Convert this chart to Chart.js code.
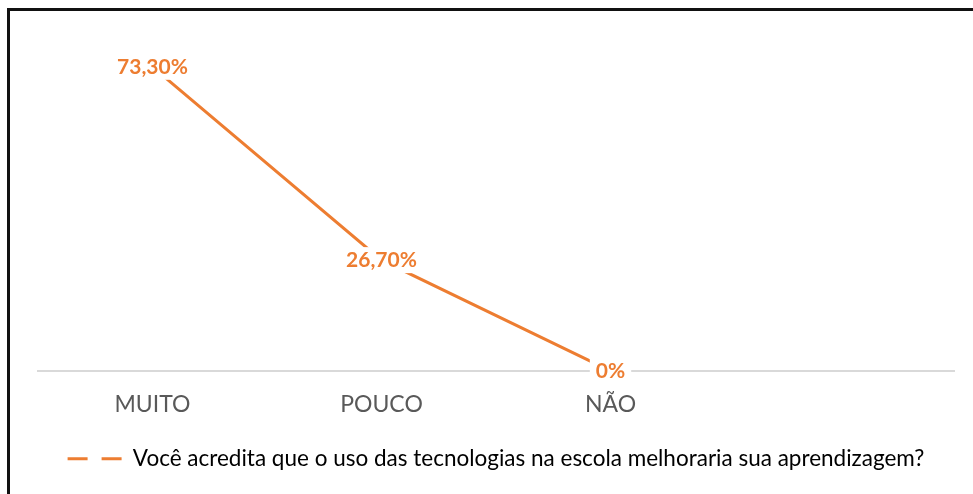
<!DOCTYPE html>
<html>
<head>
<meta charset="utf-8">
<script src="https://cdn.jsdelivr.net/npm/chart.js@4/dist/chart.umd.min.js"></script>
<style>
  html, body { margin: 0; padding: 0; background: #fff; overflow: hidden; }
  #wrap { position: relative; width: 973px; height: 494px; }
  #frame { position: absolute; left: 7px; top: 8px; width: 1000px; height: 600px;
           border-left: 3px solid #111; border-top: 3px solid #111; box-sizing: border-box; pointer-events: none; }
  canvas { position: absolute; left: 0; top: 0; }
</style>
</head>
<body>
<div id="wrap">
  <canvas id="c" width="973" height="494"></canvas>
  <div id="frame"></div>
</div>
<script>
const categories = ["MUITO", "POUCO", "NÃO", ""];
const seriesName = "Você acredita que o uso das tecnologias na escola melhoraria sua aprendizagem?";
const seriesValues = [73.3, 26.7, 0, null];
const valueLabels = ["73,30%", "26,70%", "0%", ""];

const ORANGE = "#ED7D31";

const labelPlugin = {
  id: "valueLabels",
  afterDatasetsDraw(chart) {
    const ctx = chart.ctx;
    const meta = chart.getDatasetMeta(0);
    ctx.save();
    ctx.font = "bold 21px Lato";
    ctx.textAlign = "center";
    ctx.textBaseline = "middle";
    meta.data.forEach((pt, i) => {
      const txt = valueLabels[i];
      if (!txt || seriesValues[i] === null) return;
      const w = ctx.measureText(txt).width;
      ctx.fillStyle = "#fff";
      ctx.fillRect(pt.x - w / 2 - 6, pt.y - 13, w + 12, 26);
      ctx.fillStyle = ORANGE;
      ctx.fillText(txt, pt.x, pt.y);
    });
    ctx.restore();
  }
};

new Chart(document.getElementById("c"), {
  type: "line",
  data: {
    labels: categories,
    datasets: [{
      label: seriesName,
      data: seriesValues,
      borderColor: ORANGE,
      backgroundColor: ORANGE,
      borderWidth: 3,
      borderDash: [],
      pointRadius: 0,
      tension: 0,
      clip: false
    }]
  },
  options: {
    responsive: false,
    animation: false,
    layout: { padding: { left: 38, right: 19, top: 39, bottom: 14 } },
    scales: {
      x: {
        offset: true,
        grid: { display: false },
        border: { display: true, color: "#D9D9D9", width: 2 },
        ticks: { color: "#595959", font: { family: "Lato", size: 23 }, padding: 12, maxRotation: 0 }
      },
      y: {
        display: false,
        min: 0,
        max: 80
      }
    },
    plugins: {
      tooltip: { enabled: false },
      legend: {
        position: "bottom",
        labels: {
          color: "#595959",
          font: { family: "Lato", size: 22.5 },
          usePointStyle: true,
          pointStyleWidth: 54,
          padding: 17,
          generateLabels(chart) {
            return [{
              text: seriesName,
              fillStyle: ORANGE,
              strokeStyle: ORANGE,
              lineWidth: 3,
              lineDash: [20, 14],
              lineCap: "butt",
              pointStyle: "line",
              datasetIndex: 0,
              hidden: false
            }];
          }
        }
      }
    }
  },
  plugins: [labelPlugin]
});
</script>
</body>
</html>
